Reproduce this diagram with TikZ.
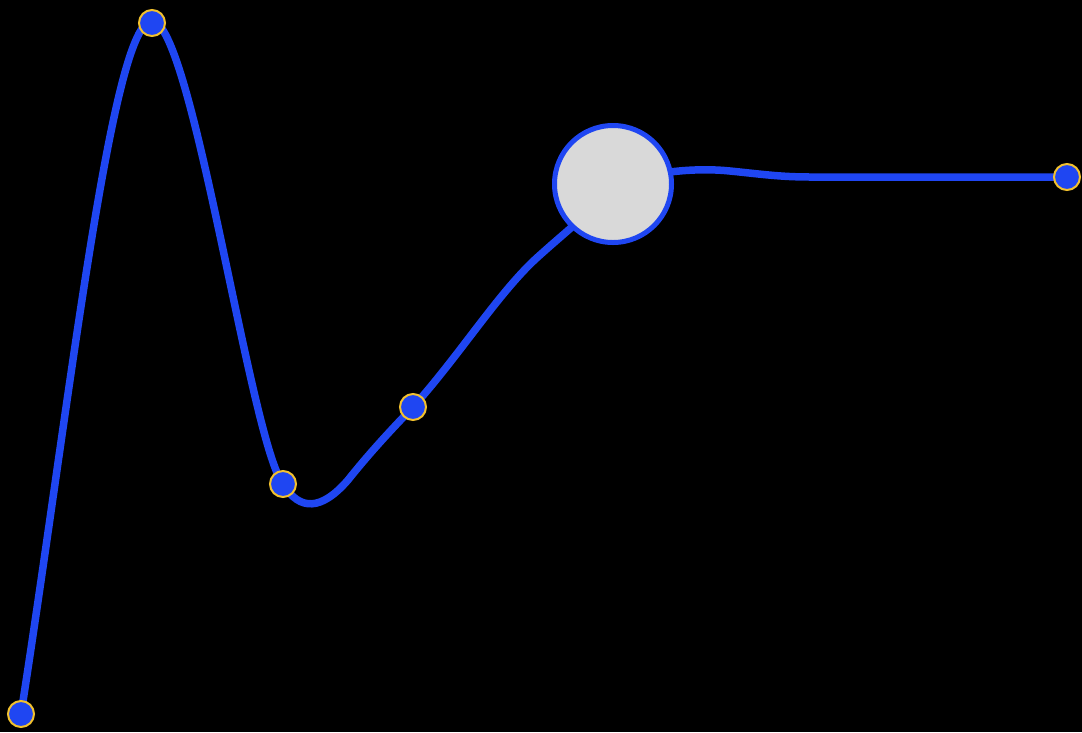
\documentclass[tikz,border=0pt]{standalone}
\usetikzlibrary{calc}
\definecolor{cblue}{HTML}{1F46F2}
\definecolor{cyel}{HTML}{F2C12E}
\definecolor{cgray}{HTML}{D9D9D9}
\begin{document}
\begin{tikzpicture}[x=1pt,y=-1pt,
  dot/.style={circle,fill=cblue,draw=cyel,line width=2pt,minimum size=26pt,inner sep=0pt},
  big/.style={circle,fill=cgray,draw=cblue,line width=5pt,minimum size=117pt,inner sep=0pt},
  wave/.style={draw=cblue,line width=7.5pt,line cap=round}]
\fill[black] (0,0) rectangle (1082,732);
\useasboundingbox (0,0) rectangle (1082,732);
\coordinate (p1) at (21,714);
\coordinate (p2) at (152,23);
\coordinate (p3) at (283,484);
\coordinate (p4) at (413,407);
\coordinate (p5) at (613,184);
\coordinate (p6) at (1067,177);
\path[wave] (p1) .. controls (70,400) and (112,21) .. (152,21)
  .. controls (192,21) and (250,440) .. (p3)
  .. controls (300,512) and (322,510) .. (348,480)
  .. controls (372,450) and (393,428) .. (p4)
  .. controls (460,355) and (500,290) .. (540,255)
  .. controls (570,228) and (600,205) .. (p5)
  .. controls (660,170) and (700,168) .. (730,171)
  .. controls (760,174) and (780,177) .. (810,177)
  -- (p6);
\node[dot] (a) at (p1) {};
\node[dot] (b) at (p2) {};
\node[dot] (c) at (p3) {};
\node[dot] (d) at (p4) {};
\node[big] (e) at (p5) {};
\node[dot] (f) at (p6) {};
\end{tikzpicture}
\end{document}
